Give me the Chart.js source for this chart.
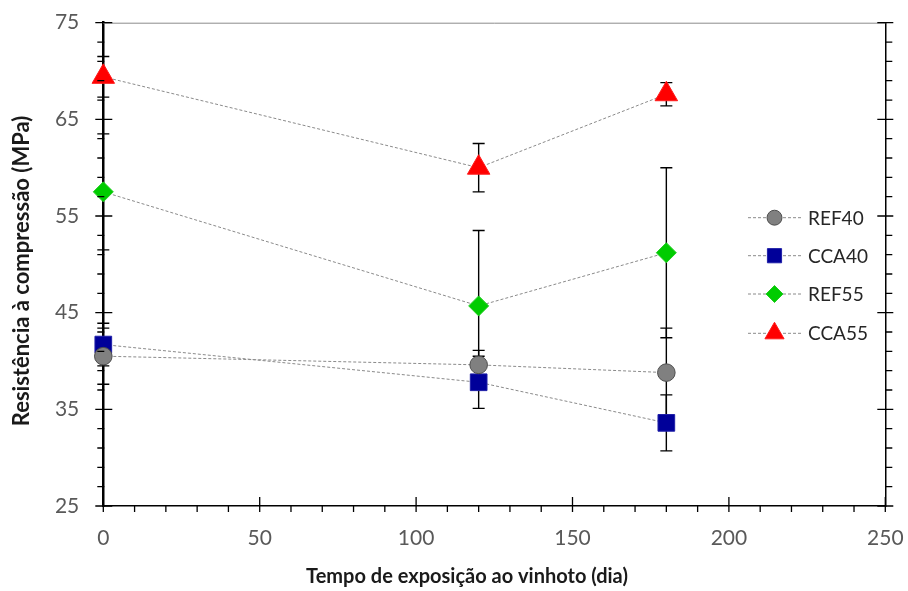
<!DOCTYPE html>
<html>
<head>
<meta charset="utf-8">
<script src="https://cdn.jsdelivr.net/npm/chart.js@4.4.1/dist/chart.umd.min.js"></script>
<style>
  html, body { margin: 0; padding: 0; background: #fff; }
  #wrap { width: 908px; height: 591px; }
</style>
</head>
<body>
<div id="wrap"><canvas id="resChart" width="908" height="591"></canvas></div>
<script>
'use strict';
//** Data */

let days = [0, 120, 180];
let seriesNames = ['REF40', 'CCA40', 'REF55', 'CCA55'];

let ref40 = [40.5, 39.6, 38.8];
let cca40 = [41.7, 37.8, 33.6];
let ref55 = [57.5, 45.7, 51.2];
let cca55 = [69.4, 60.0, 67.6];

let ref40err = [2.9, 1.5, 4.6];
let cca40err = [2.2, 2.7, 2.9];
let ref55err = [6.0, 7.8, 8.8];
let cca55err = [2.1, 2.5, 1.2];

let xTicks = [0, 50, 100, 150, 200, 250];
let yTicks = [25, 35, 45, 55, 65, 75];

let xTitle = 'Tempo de exposição ao vinhoto (dia)';
let yTitle = 'Resistência à compressão (MPa)';

//** Helpers */

function topoints(values){
  let pts = [];
  for (let i = 0; i < days.length; i++){
    pts.push({x: days[i], y: values[i]});
  }
  return pts;
}

function makeset(label, values, errs, style, fill, border, radius){
  return {
    label: label,
    data: topoints(values),
    errors: errs,
    showLine: true,
    clip: false,
    borderColor: '#8a8a8a',
    borderWidth: 1,
    borderDash: [3, 2],
    pointStyle: style,
    pointRadius: radius,
    pointHoverRadius: radius,
    pointBackgroundColor: fill,
    pointBorderColor: border,
    pointBorderWidth: 1,
    legendRadius: radius * 0.85
  };
}

let datasets = [
  makeset(seriesNames[0], ref40, ref40err, 'circle', '#808080', '#4d4d4d', 8.8),
  makeset(seriesNames[1], cca40, cca40err, 'rect', '#000099', '#1f1fa8', 11.8),
  makeset(seriesNames[2], ref55, ref55err, 'rectRot', '#00cc00', '#22cc22', 10),
  makeset(seriesNames[3], cca55, cca55err, 'triangle', '#ff0000', '#ff1a1a', 13)
];

//** Plugins */

// error bars, drawn under the markers
let errorBars = {
  id: 'errorBars',
  beforeDatasetsDraw(chart){
    let c = chart.ctx;
    let xs = chart.scales.x;
    let ys = chart.scales.y;
    c.save();
    c.strokeStyle = '#000';
    c.lineWidth = 1.4;
    chart.data.datasets.forEach(ds => {
      ds.data.forEach((p, i) => {
        let e = ds.errors[i];
        let px = xs.getPixelForValue(p.x);
        let top = ys.getPixelForValue(p.y + e);
        let bot = ys.getPixelForValue(p.y - e);
        c.beginPath();
        c.moveTo(px, top); c.lineTo(px, bot);
        c.moveTo(px - 6, top); c.lineTo(px + 6, top);
        c.moveTo(px - 6, bot); c.lineTo(px + 6, bot);
        c.stroke();
      });
    });
    c.restore();
  }
};

// frame, major/minor ticks and axis titles
let frame = {
  id: 'frame',
  afterDraw(chart){
    let c = chart.ctx;
    let a = chart.chartArea;
    let xs = chart.scales.x;
    let ys = chart.scales.y;
    c.save();
    c.strokeStyle = '#8c8c8c';
    c.lineWidth = 1;
    c.beginPath();
    c.moveTo(a.left, a.top + 0.5); c.lineTo(a.right, a.top + 0.5);
    c.stroke();

    c.strokeStyle = '#000';
    c.lineWidth = 1.3;
    c.beginPath();
    for (let v = 25; v <= 75; v++){
      if ((v - 25) % 2 !== 0 && (v - 25) % 10 !== 0) continue;
      let py = ys.getPixelForValue(v);
      if ((v - 25) % 10 === 0){
        c.moveTo(a.left - 8, py); c.lineTo(a.left + 9, py);
        c.moveTo(a.right - 8, py); c.lineTo(a.right + 8, py);
      } else {
        c.moveTo(a.left - 6, py); c.lineTo(a.left + 1, py);
        c.moveTo(a.right, py); c.lineTo(a.right + 7, py);
      }
    }
    for (let v = 0; v <= 250; v += 10){
      let px = xs.getPixelForValue(v);
      if (v % 50 === 0){
        c.moveTo(px, a.bottom - 9); c.lineTo(px, a.bottom + 6);
      } else {
        c.moveTo(px, a.bottom); c.lineTo(px, a.bottom + 6);
      }
    }
    c.stroke();

    c.fillStyle = '#1a1a1a';
    c.textAlign = 'center';
    c.textBaseline = 'middle';
    c.font = 'bold 20px Lato';
    c.fillText(xTitle, 467, 577);
    c.font = 'bold 22px Lato';
    c.translate(22, 271);
    c.rotate(-Math.PI / 2);
    c.fillText(yTitle, 0, 0);
    c.restore();
  }
};

// legend inside the plot, dashed line through each marker
let insideLegend = {
  id: 'insideLegend',
  afterDraw(chart){
    let c = chart.ctx;
    let rows = [217.7, 255.7, 294, 333.3];
    c.save();
    chart.data.datasets.forEach((ds, i) => {
      let y = rows[i];
      c.strokeStyle = ds.borderColor;
      c.lineWidth = 1;
      c.setLineDash(ds.borderDash);
      c.beginPath();
      c.moveTo(748, y); c.lineTo(802, y);
      c.stroke();
      c.setLineDash([]);
      c.fillStyle = ds.pointBackgroundColor;
      c.strokeStyle = ds.pointBorderColor;
      Chart.helpers.drawPoint(c, {pointStyle: ds.pointStyle, radius: ds.legendRadius, rotation: 0, borderWidth: 1}, 774.5, y);
      c.fillStyle = '#262626';
      c.font = '19px Lato';
      c.textAlign = 'left';
      c.textBaseline = 'middle';
      c.fillText(ds.label, 808, y + 1);
    });
    c.restore();
  }
};

function nopadding(axis){
  axis.paddingTop = 0;
  axis.paddingBottom = 0;
  axis.paddingLeft = 0;
  axis.paddingRight = 0;
}

//** Chart */

let ctx = document.getElementById('resChart');

let tickFont = {family: 'Lato', size: 21};

let chartObj = {
  type: 'scatter',
  data: {datasets: datasets},
  options: {
    responsive: false,
    animation: false,
    events: [],
    layout: {padding: {top: 22.7, left: 0, right: 0, bottom: 0}},
    plugins: {legend: {display: false}, tooltip: {enabled: false}},
    scales: {
      x: {
        type: 'linear',
        min: 0,
        max: 250,
        afterBuildTicks: axis => { axis.ticks = xTicks.map(v => ({value: v})); },
        afterFit: axis => { axis.height = 85; nopadding(axis); },
        ticks: {font: tickFont, color: '#595959', padding: 20, maxRotation: 0},
        grid: {drawOnChartArea: false, drawTicks: false},
        border: {color: '#000', width: 1.5}
      },
      y: {
        type: 'linear',
        min: 25,
        max: 75,
        afterBuildTicks: axis => { axis.ticks = yTicks.map(v => ({value: v})); },
        afterFit: axis => { axis.width = 103.3; nopadding(axis); },
        ticks: {font: tickFont, color: '#595959', padding: 24},
        grid: {drawOnChartArea: false, drawTicks: false},
        border: {color: '#000', width: 2.5}
      },
      y2: {
        type: 'linear',
        position: 'right',
        min: 25,
        max: 75,
        afterFit: axis => { axis.width = 22.7; nopadding(axis); },
        ticks: {display: false},
        grid: {drawOnChartArea: false, drawTicks: false},
        border: {color: '#000', width: 1.5}
      }
    }
  },
  plugins: [errorBars, frame, insideLegend]
};

let reschart = new Chart(ctx, chartObj);
</script>
</body>
</html>
